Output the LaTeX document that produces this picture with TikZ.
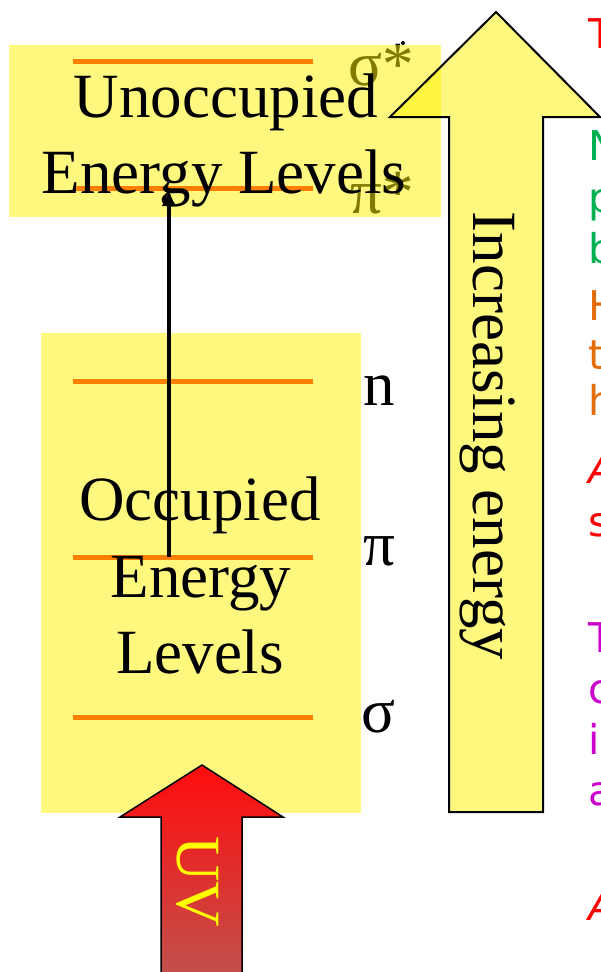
\documentclass[tikz,border=0pt]{standalone}
\usepackage{fontspec}
\setmainfont{Liberation Serif}
\newfontfamily\sidefont{DejaVu Sans}
\usetikzlibrary{arrows.meta}
\definecolor{lvlorange}{RGB}{255,128,0}
\definecolor{sred}{RGB}{255,0,0}
\definecolor{sgreen}{RGB}{0,176,80}
\definecolor{sorange}{RGB}{228,108,10}
\definecolor{smagenta}{RGB}{204,0,204}
\definecolor{uvtop}{RGB}{255,12,12}
\definecolor{uvbot}{RGB}{192,82,78}
\definecolor{uvtext}{RGB}{255,255,0}
\begin{document}
\begin{tikzpicture}[x=1pt,y=-1pt,
  big/.style={font=\fontsize{63}{76}\selectfont, inner sep=0pt},
  ebox/.style={fill=yellow, fill opacity=0.5},
  level/.style={draw=lvlorange, line width=5pt},
  side/.style={font=\sidefont\fontsize{41}{50}\selectfont, inner sep=0pt, anchor=base west}]
\useasboundingbox (0,0) rectangle (601,972);
\clip (0,0) rectangle (601,972);

% labels lying under the top box
\node[big, anchor=base west] (sstar) at (348,85) {σ*};
\node[big, anchor=base west] (pstar) at (350,213) {π*};

% boxes
\fill[ebox] (9,45) rectangle (441,217);
\fill[ebox] (41,333) rectangle (361,813);

% energy levels
\draw[level] (73,61) -- (313,61);
\draw[level] (73,188) -- (313,188);
\draw[level] (73,381) -- (313,381);
\draw[level] (73,557) -- (313,557);
\draw[level] (73,717) -- (313,717);

% box texts
\node[big, anchor=base] (unocc1) at (226,117) {Unoccupied};
\node[big, anchor=base] (unocc2) at (224,193) {Energy Levels};
\node[big, anchor=base] (occ1) at (200,520) {Occupied};
\node[big, anchor=base] (occ2) at (201,597) {Energy};
\node[big, anchor=base] (occ3) at (200,673) {Levels};

% level labels
\node[big, anchor=base west] (nlab) at (363,405) {n};
\node[big, anchor=base west] (pilab) at (363,565) {π};
\node[big, anchor=base west] (siglab) at (361,732) {σ};

% transition arrow
\coordinate (pifrom) at (169,557);
\coordinate (pito) at (169,190);
\draw[line width=4.5pt, -{Latex[length=16pt,width=15pt]}] (pifrom) -- (pito);

\fill (403,43) circle (2);

% increasing energy arrow
\draw[fill=yellow, fill opacity=0.5, draw opacity=1, line width=2pt, line join=miter]
  (496,12) -- (600,117) -- (543,117) -- (543,812) -- (449,812) -- (449,117) -- (390,117) -- cycle;
\node[big, rotate=-90, anchor=base] (inc) at (473,436) {Increasing energy};

% UV arrow
\shade[top color=uvtop, bottom color=uvbot, draw=black, line width=1.5pt, line join=miter]
  (202,765) -- (283,817) -- (242,817) -- (242,980) -- (161,980) -- (161,817) -- (120,817) -- cycle;
\node[big, rotate=-90, anchor=base, text=uvtext] (uv) at (177,882) {UV};

% clipped side text
\node[side, text=sred] (s1) at (588,48) {T};
\node[side, text=sgreen] (s2) at (588,160) {N};
\node[side, text=sgreen] (s3) at (588,212) {p};
\node[side, text=sgreen] (s4) at (588,263) {b};
\node[side, text=sorange] (s5) at (588,320) {H};
\node[side, text=sorange] (s6) at (588,369) {t};
\node[side, text=sorange] (s7) at (588,415) {h};
\node[side, text=sred, font=\sidefont\itshape\fontsize{41}{50}\selectfont] (s8) at (588,483) {A};
\node[side, text=sred] (s9) at (588,536) {s};
\node[side, text=smagenta] (s10) at (588,652) {T};
\node[side, text=smagenta] (s11) at (588,703) {c};
\node[side, text=smagenta] (s12) at (588,754) {i};
\node[side, text=smagenta] (s13) at (588,805) {a};
\node[side, text=sred, font=\sidefont\itshape\fontsize{41}{50}\selectfont] (s14) at (588,920) {A};
\end{tikzpicture}
\end{document}
